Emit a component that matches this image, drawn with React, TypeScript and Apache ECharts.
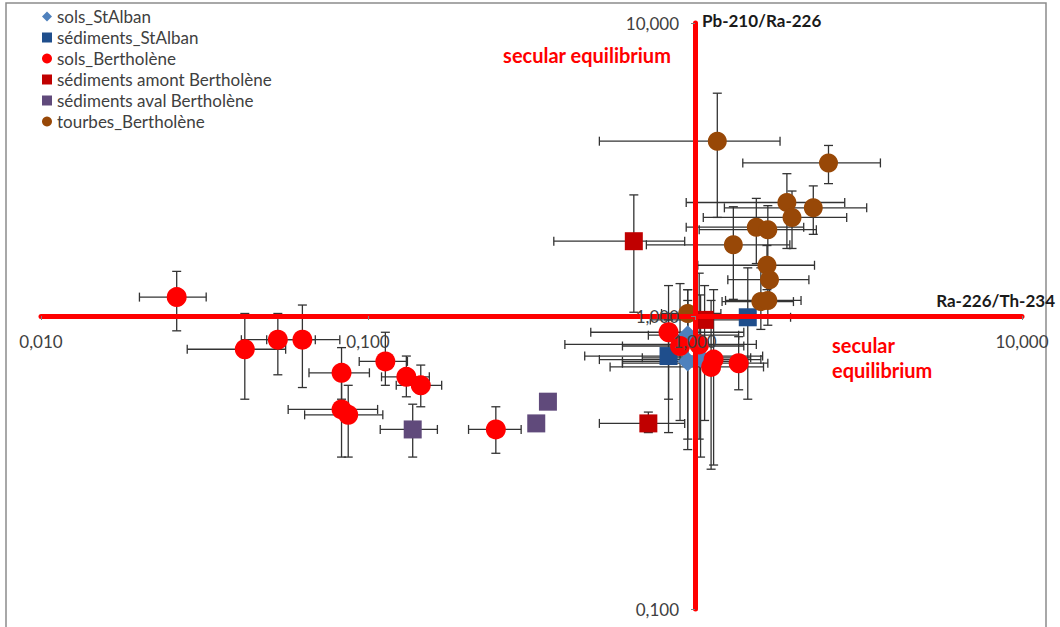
import { useEffect, useRef } from 'react';
import * as echarts from 'echarts';

// Each point: [x, y, xLow, xHigh, yLow, yHigh]
// x = Ra-226/Th-234 activity ratio, y = Pb-210/Ra-226 activity ratio
const solsStAlban: number[][] = [
  [0.95, 0.86, 0.72, 1.36, 0.38, 1.23],
  [0.95, 0.70, 0.60, 1.41, 0.35, 1.13],
  [1.04, 0.72, 0.69, 1.48, 0.33, 1.18],
];
const sedimentsStAlban: number[][] = [
  [1.45, 0.99, 1.08, 1.96, 0.52, 1.46],
  [0.83, 0.73, 0.46, 1.61, 0.40, 0.97],
];
const solsBertholene: number[][] = [
  [0.026, 1.16, 0.020, 0.032, 0.89, 1.42],
  [0.042, 0.77, 0.028, 0.056, 0.52, 1.02],
  [0.053, 0.83, 0.041, 0.069, 0.63, 1.02],
  [0.063, 0.83, 0.049, 0.082, 0.57, 1.09],
  [0.083, 0.64, 0.066, 0.101, 0.52, 0.78],
  [0.083, 0.48, 0.057, 0.107, 0.33, 0.61],
  [0.087, 0.46, 0.064, 0.111, 0.33, 0.58],
  [0.113, 0.70, 0.094, 0.132, 0.58, 0.88],
  [0.131, 0.62, 0.110, 0.154, 0.53, 0.73],
  [0.145, 0.58, 0.122, 0.168, 0.49, 0.68],
  [0.246, 0.41, 0.203, 0.294, 0.34, 0.49],
  [0.83, 0.88, 0.48, 1.41, 0.52, 1.27],
  [0.90, 0.79, 0.60, 1.41, 0.44, 1.29],
  [1.03, 0.80, 0.40, 1.54, 0.38, 1.40],
  [1.14, 0.71, 0.51, 1.59, 0.31, 1.23],
  [1.12, 0.67, 0.55, 1.62, 0.30, 1.13],
  [1.36, 0.69, 0.60, 1.67, 0.56, 0.85],
];
const sedimentsAmont: number[][] = [
  [0.65, 1.80, 0.37, 0.93, 1.03, 2.59],
  [1.07, 0.97, 0.73, 1.43, 0.44, 1.27],
  [0.72, 0.43, 0.51, 0.93, 0.40, 0.47],
];
const sedimentsAval: number[][] = [
  [0.137, 0.41, 0.109, 0.163, 0.33, 0.50],
  [0.327, 0.43],
  [0.355, 0.51],
];
const tourbes: number[][] = [
  [1.17, 3.95, 0.51, 1.82, 2.17, 5.76],
  [2.56, 3.33, 1.40, 3.69, 2.83, 3.82],
  [1.91, 2.44, 0.94, 2.87, 1.70, 3.06],
  [2.30, 2.34, 1.23, 3.35, 1.90, 2.78],
  [1.98, 2.17, 1.06, 2.91, 1.70, 2.67],
  [1.54, 2.01, 0.94, 2.15, 1.51, 2.52],
  [1.67, 1.97, 1.03, 2.35, 1.51, 2.38],
  [1.31, 1.75, 0.71, 1.95, 1.14, 2.36],
  [1.66, 1.49, 1.02, 2.32, 1.23, 1.74],
  [1.69, 1.33, 1.26, 2.23, 1.13, 1.52],
  [1.59, 1.12, 1.21, 2.00, 0.90, 1.46],
  [1.67, 1.13, 1.24, 2.11, 0.93, 1.38],
  [0.95, 1.02, 0.79, 1.20, 0.86, 1.23],
];

const xTicks = [0.01, 0.1, 1, 10];
const yTicks = [0.1, 1, 10];
const crossAt = 1; // both axes cross at secular equilibrium

const groups = [
  { name: 'sols_StAlban', data: solsStAlban, symbol: 'diamond', size: 20, color: '#4F81BD' },
  { name: 'sédiments_StAlban', data: sedimentsStAlban, symbol: 'rect', size: 18, color: '#1F4E8C' },
  { name: 'sols_Bertholène', data: solsBertholene, symbol: 'circle', size: 20, color: '#FF0000' },
  { name: 'sédiments amont Bertholène', data: sedimentsAmont, symbol: 'rect', size: 18, color: '#C00000' },
  { name: 'sédiments aval Bertholène', data: sedimentsAval, symbol: 'rect', size: 18, color: '#604A7B' },
  { name: 'tourbes_Bertholène', data: tourbes, symbol: 'circle', size: 19, color: '#984807' },
];

const FONT = 'Lato, "Open Sans", sans-serif';
const fmt = (v: number) => v.toFixed(3).replace('.', ',');

const errorBarRender = (_params: any, api: any) => {
  const x = api.value(0);
  const y = api.value(1);
  const c = api.coord([x, y]);
  const xl = api.coord([api.value(2), y]);
  const xh = api.coord([api.value(3), y]);
  const yl = api.coord([x, api.value(4)]);
  const yh = api.coord([x, api.value(5)]);
  const cap = 4.5;
  const style = { stroke: '#333333', lineWidth: 1.3, fill: null };
  const ln = (x1: number, y1: number, x2: number, y2: number) => ({
    type: 'line',
    shape: { x1, y1, x2, y2 },
    style,
  });
  return {
    type: 'group',
    children: [
      ln(xl[0], c[1], xh[0], c[1]),
      ln(xl[0], c[1] - cap, xl[0], c[1] + cap),
      ln(xh[0], c[1] - cap, xh[0], c[1] + cap),
      ln(c[0], yl[1], c[0], yh[1]),
      ln(c[0] - cap, yl[1], c[0] + cap, yl[1]),
      ln(c[0] - cap, yh[1], c[0] + cap, yh[1]),
    ],
  };
};

export default function App() {
  const ref = useRef<HTMLDivElement>(null);

  useEffect(() => {
    if (!ref.current) return;
    const chart = echarts.init(ref.current, null, { renderer: 'svg' });

    const grid = { left: 41, top: 23, width: 981, height: 586 };
    const xMin = xTicks[0];
    const xMax = xTicks[xTicks.length - 1];
    const yMin = yTicks[0];
    const yMax = yTicks[yTicks.length - 1];
    const lg = Math.log10;
    // shift each axis so that it passes through the point (1, 1)
    const xAxisOffset = -grid.height * (lg(crossAt) - lg(yMin)) / (lg(yMax) - lg(yMin));
    const yAxisOffset = -grid.width * (lg(crossAt) - lg(xMin)) / (lg(xMax) - lg(xMin));

    const axisCommon = {
      type: 'log',
      logBase: 10,
      z: 5,
      axisLine: { show: true, onZero: false, lineStyle: { color: '#FF0000', width: 5 } },
      axisTick: { show: true, length: 4, lineStyle: { color: '#808080', width: 1 } },
      splitLine: { show: false },
      minorTick: { show: false },
    };

    const series: any[] = [];
    groups.forEach((g) => {
      const withErr = g.data.filter((p) => p.length >= 6);
      if (withErr.length) {
        series.push({
          type: 'custom',
          renderItem: errorBarRender,
          encode: { x: 0, y: 1 },
          data: withErr,
          silent: true,
        });
      }
      series.push({
        type: 'scatter',
        name: g.name,
        symbol: g.symbol,
        symbolSize: g.size,
        itemStyle: { color: g.color, opacity: 1 },
        data: g.data.map((p) => [p[0], p[1]]),
      });
    });

    const titleFont = { fontFamily: FONT, fontWeight: 'bold', fontSize: 17 };
    const noteFont = { fontFamily: FONT, fontWeight: 'bold', fontSize: 20 };

    chart.setOption({
      animation: false,
      backgroundColor: '#ffffff',
      grid: { ...grid, containLabel: false },
      legend: {
        orient: 'vertical',
        left: 37,
        top: 3,
        itemWidth: 10,
        itemHeight: 10,
        itemGap: 4,
        selectedMode: false,
        textStyle: { fontFamily: FONT, fontSize: 17, color: '#404040', lineHeight: 17 },
        data: groups.map((g) => ({ name: g.name, icon: g.symbol })),
      },
      xAxis: {
        ...axisCommon,
        min: xMin,
        max: xMax,
        position: 'bottom',
        offset: xAxisOffset,
        axisLabel: {
          show: true,
          margin: 17,
          formatter: fmt,
          fontFamily: FONT,
          fontSize: 17,
          color: '#404040',
          showMinLabel: true,
          showMaxLabel: true,
        },
      },
      yAxis: {
        ...axisCommon,
        min: yMin,
        max: yMax,
        position: 'left',
        offset: yAxisOffset,
        axisLabel: {
          show: true,
          margin: 16,
          formatter: fmt,
          fontFamily: FONT,
          fontSize: 17,
          color: '#404040',
          showMinLabel: true,
          showMaxLabel: true,
        },
      },
      graphic: [
        {
          type: 'rect',
          shape: { x: 6, y: 3, width: 1040, height: 700 },
          style: { fill: 'none', stroke: '#8c8c8c', lineWidth: 1.5 },
          silent: true,
          z: -10,
        },
        {
          type: 'text',
          x: 702,
          y: 20,
          style: { text: 'Pb-210/Ra-226', ...titleFont, fill: '#1a1a1a', align: 'left', verticalAlign: 'middle', textAlign: 'left', textVerticalAlign: 'middle' },
          silent: true,
        },
        {
          type: 'text',
          x: 1055,
          y: 300,
          style: { text: 'Ra-226/Th-234', ...titleFont, fill: '#1a1a1a', align: 'right', verticalAlign: 'middle', textAlign: 'right', textVerticalAlign: 'middle' },
          silent: true,
        },
        {
          type: 'text',
          x: 587,
          y: 55,
          style: { text: 'secular equilibrium', ...noteFont, fill: '#FF0000', align: 'center', verticalAlign: 'middle', textAlign: 'center', textVerticalAlign: 'middle' },
          silent: true,
        },
        {
          type: 'text',
          x: 832,
          y: 345,
          style: { text: 'secular', ...noteFont, fill: '#FF0000', align: 'left', verticalAlign: 'middle', textAlign: 'left', textVerticalAlign: 'middle' },
          silent: true,
        },
        {
          type: 'text',
          x: 832,
          y: 370,
          style: { text: 'equilibrium', ...noteFont, fill: '#FF0000', align: 'left', verticalAlign: 'middle', textAlign: 'left', textVerticalAlign: 'middle' },
          silent: true,
        },
      ],
      series,
    });

    return () => chart.dispose();
  }, []);

  return (
    <div
      ref={ref}
      style={{ position: 'fixed', left: 0, top: 0, width: 1060, height: 627, background: '#fff' }}
    />
  );
}
